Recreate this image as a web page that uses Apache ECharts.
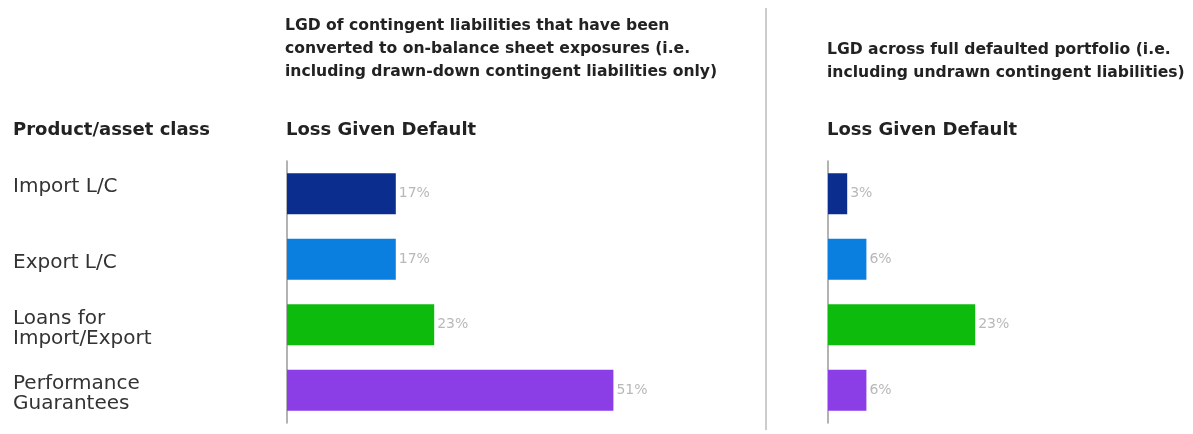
<!DOCTYPE html>
<html>
<head>
<meta charset="utf-8">
<script src="https://cdn.jsdelivr.net/npm/echarts@6/dist/echarts.min.js"></script>
<style>
html,body{margin:0;padding:0;background:#fff;}
#chart{width:1193px;height:434px;}
</style>
</head>
<body>
<div id="chart"></div>
<script>
const categories = ['Import L/C', 'Export L/C', 'Loans for\nImport/Export', 'Performance\nGuarantees'];
const drawnLGD = [17, 17, 23, 51];
const fullLGD = [3, 6, 23, 6];
const barColors = ['#0b2e8e', '#0b7fe0', '#0cbb0c', '#8b3de6'];

const FONT = 'DejaVu Sans';
const chart = echarts.init(document.getElementById('chart'), null, {renderer: 'canvas'});

function series(data, idx) {
  return {
    type: 'bar',
    xAxisIndex: idx, yAxisIndex: idx,
    barWidth: 41,
    data: data.map((v, i) => ({value: v, itemStyle: {color: barColors[i]}})),
    label: {
      show: true, position: 'right', distance: 3,
      formatter: '{c}%', color: '#b8b8b8', fontFamily: FONT, fontSize: 14
    },
    silent: true
  };
}

const labelShift = [{padding: [0, 0, 14, 0]}, {padding: [8, 0, 0, 0]}, {padding: [8, 0, 0, 0]}, {padding: [8, 0, 0, 0]}];

const option = {
  backgroundColor: '#ffffff',
  animation: false,
  title: [
    {text: 'Product/asset class', left: 8, top: 116,
     textStyle: {fontFamily: FONT, fontWeight: 'bold', fontSize: 18, color: '#222'}},
    {text: 'Loss Given Default', left: 281, top: 116,
     textStyle: {fontFamily: FONT, fontWeight: 'bold', fontSize: 18, color: '#222'}},
    {text: 'Loss Given Default', left: 822, top: 116,
     textStyle: {fontFamily: FONT, fontWeight: 'bold', fontSize: 18, color: '#222'}},
    {text: 'LGD of contingent liabilities that have been\nconverted to on-balance sheet exposures (i.e.\nincluding drawn-down contingent liabilities only)',
     left: 280, top: 9,
     textStyle: {fontFamily: FONT, fontWeight: 'bold', fontSize: 15.6, lineHeight: 23, color: '#222'}},
    {text: 'LGD across full defaulted portfolio (i.e.\nincluding undrawn contingent liabilities)',
     left: 822, top: 33,
     textStyle: {fontFamily: FONT, fontWeight: 'bold', fontSize: 15.6, lineHeight: 23, color: '#222'}}
  ],
  grid: [
    {left: 287, top: 161, width: 384, height: 262},
    {left: 828, top: 161, width: 320, height: 262}
  ],
  xAxis: [
    {gridIndex: 0, type: 'value', min: 0, max: 60, show: false},
    {gridIndex: 1, type: 'value', min: 0, max: 50, show: false}
  ],
  yAxis: [
    {gridIndex: 0, type: 'category', data: categories, inverse: true,
     axisLine: {show: true, lineStyle: {color: '#9a9a9a', width: 1.5}},
     axisTick: {show: false},
     axisLabel: {
       align: 'left', margin: 274,
       formatter: (v, i) => v.split('\n').map(s => '{s' + i + '|' + s + '}').join('\n'),
       rich: Object.fromEntries(labelShift.map((r, i) => ['s' + i,
         Object.assign({fontFamily: FONT, fontSize: 20, lineHeight: 20, color: '#333'}, r)]))
     }},
    {gridIndex: 1, type: 'category', data: categories, inverse: true,
     axisLine: {show: true, lineStyle: {color: '#9a9a9a', width: 1.5}},
     axisTick: {show: false},
     axisLabel: {show: false}}
  ],
  graphic: [
    {type: 'line', shape: {x1: 766, y1: 8, x2: 766, y2: 430},
     style: {stroke: '#bdbdbd', lineWidth: 1.5}, silent: true}
  ],
  series: [series(drawnLGD, 0), series(fullLGD, 1)]
};
chart.setOption(option);
</script>
</body>
</html>
